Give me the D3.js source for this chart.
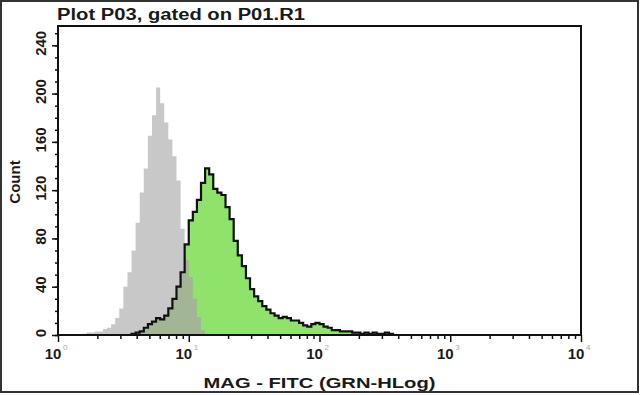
<!DOCTYPE html>
<html>
<head>
<meta charset="utf-8">
<script src="https://cdn.jsdelivr.net/npm/d3@7"></script>
<style>
  body { margin: 0; background: #fff; }
  svg { display: block; }
  text { font-family: "Liberation Sans", Arial, sans-serif; fill: #1a1a1a; }
</style>
</head>
<body>
<div id="chart"></div>
<script>
// histogram channels: 128 log channels across 4 decades
const channelCount = 128;
const decades = [1, 10, 100, 1000, 10000];
const yTicks = [0, 40, 80, 120, 160, 200, 240];

// unstained control (grey), counts from channel 6
const greyStart = 6;
const greyCounts = [1, 2, 2, 3, 3, 5, 6, 9, 14, 22, 40, 52, 70, 93, 118, 138, 165, 182, 205, 192,
  176, 162, 148, 128, 88, 62, 48, 30, 15, 4];

// stained sample (green), counts from channel 18
const greenStart = 18;
const greenCounts = [1, 2, 3, 6, 9, 11, 14, 13, 16, 22, 30, 40, 52, 75, 95, 102, 112, 126, 138, 133,
  121, 118, 116, 106, 96, 78, 66, 57, 47, 38, 32, 28, 24, 21, 18, 16, 14, 15, 14, 12,
  12, 10, 8, 7, 9, 10, 9, 7, 6, 4, 4, 3, 3, 3, 2, 2, 1, 2, 1, 2, 1, 1, 2, 1];

const width = 640;
const height = 395;
const margin = { left: 58, top: 26, right: 59, bottom: 60 };

const svg = d3.select("#chart")
  .append("svg")
  .attr("width", width)
  .attr("height", height);

const x = d3.scaleLog()
  .domain([1, 10000])
  .range([margin.left, width - margin.right]);

const y = d3.scaleLinear()
  .domain([0, 256])
  .range([height - margin.bottom, margin.top]);

const channelValue = c => Math.pow(10, c * 4 / channelCount);

function toBins(start, counts) {
  const bins = counts.map((v, i) => ({ c: start + i, v: v }));
  bins.push({ c: start + counts.length, v: 0 });
  return bins;
}

const greyBins = toBins(greyStart, greyCounts);
const greenBins = toBins(greenStart, greenCounts);

// overlap of the two histograms
const overlapBins = [];
for (let c = greenStart; c <= greyStart + greyCounts.length; c++) {
  const g = greyCounts[c - greyStart] || 0;
  const s = greenCounts[c - greenStart] || 0;
  overlapBins.push({ c: c, v: Math.min(g, s) });
}

const area = d3.area()
  .curve(d3.curveStepAfter)
  .x(d => x(channelValue(d.c)))
  .y0(y(0))
  .y1(d => y(d.v));

const line = d3.line()
  .curve(d3.curveStepAfter)
  .x(d => x(channelValue(d.c)))
  .y(d => y(d.v));

// outer border
svg.append("rect")
  .attr("x", 1)
  .attr("y", 1)
  .attr("width", width - 3)
  .attr("height", height - 4)
  .attr("fill", "none")
  .attr("stroke", "#333")
  .attr("stroke-width", 2);

svg.append("path")
  .datum(greyBins)
  .attr("d", area)
  .attr("fill", "#c8c8c8");

svg.append("path")
  .datum(greenBins)
  .attr("d", area)
  .attr("fill", "#8fe36b");

svg.append("path")
  .datum(overlapBins)
  .attr("d", area)
  .attr("fill", "#a2b594");

svg.append("path")
  .datum([{ c: greenStart, v: 0 }].concat(greenBins))
  .attr("d", line)
  .attr("fill", "none")
  .attr("stroke", "#111")
  .attr("stroke-width", 2.2);

// x axis ticks
const minorX = [];
for (let d = 0; d < 4; d++) {
  for (let k = 2; k <= 9; k++) minorX.push(k * Math.pow(10, d));
}
svg.append("g")
  .attr("transform", `translate(0,${y(0)})`)
  .call(d3.axisBottom(x).tickValues(minorX).tickSize(4).tickFormat(""))
  .call(g => g.select(".domain").remove())
  .selectAll("line").attr("stroke", "#111").attr("stroke-width", 1.5);

svg.append("g")
  .attr("transform", `translate(0,${y(0)})`)
  .call(d3.axisBottom(x).tickValues(decades).tickSize(7).tickFormat(""))
  .call(g => g.select(".domain").remove())
  .selectAll("line").attr("stroke", "#111").attr("stroke-width", 1.5);

const xLabels = svg.append("g");
decades.forEach((d, i) => {
  xLabels.append("text")
    .attr("x", x(d) - 5)
    .attr("y", y(0) + 24)
    .attr("text-anchor", "middle")
    .attr("font-size", 15)
    .attr("font-weight", "bold")
    .text("10");
  xLabels.append("text")
    .attr("x", x(d) + 5)
    .attr("y", y(0) + 15)
    .attr("font-size", 8)
    .style("fill", "#aaa")
    .text(i);
});

// y axis ticks
const minorY = d3.range(0, 257, 10);
svg.append("g")
  .attr("transform", `translate(${margin.left},0)`)
  .call(d3.axisLeft(y).tickValues(minorY).tickSize(3).tickFormat(""))
  .call(g => g.select(".domain").remove())
  .selectAll("line").attr("stroke", "#111").attr("stroke-width", 1.5);

svg.append("g")
  .attr("transform", `translate(${margin.left},0)`)
  .call(d3.axisLeft(y).tickValues(yTicks).tickSize(6).tickFormat(""))
  .call(g => g.select(".domain").remove())
  .selectAll("line").attr("stroke", "#111").attr("stroke-width", 1.5);

svg.append("g")
  .selectAll("text")
  .data(yTicks)
  .enter()
  .append("text")
  .attr("transform", d => `translate(46,${y(d) - 2}) rotate(-90)`)
  .attr("text-anchor", "middle")
  .attr("font-size", 15)
  .attr("font-weight", "bold")
  .text(d => d);

// plot frame
svg.append("rect")
  .attr("x", margin.left)
  .attr("y", margin.top)
  .attr("width", width - margin.left - margin.right)
  .attr("height", height - margin.top - margin.bottom)
  .attr("fill", "none")
  .attr("stroke", "#111")
  .attr("stroke-width", 2);

svg.append("text")
  .attr("x", 57)
  .attr("y", 20)
  .attr("font-size", 16)
  .attr("font-weight", "bold")
  .attr("textLength", 248)
  .attr("lengthAdjust", "spacingAndGlyphs")
  .text("Plot P03, gated on P01.R1");

svg.append("text")
  .attr("x", (margin.left + width - margin.right) / 2)
  .attr("y", 388)
  .attr("text-anchor", "middle")
  .attr("font-size", 15)
  .attr("font-weight", "bold")
  .attr("textLength", 232)
  .attr("lengthAdjust", "spacingAndGlyphs")
  .text("MAG - FITC (GRN-HLog)");

svg.append("text")
  .attr("transform", "translate(20,182) rotate(-90)")
  .attr("text-anchor", "middle")
  .attr("font-size", 15)
  .attr("font-weight", "bold")
  .text("Count");
</script>
</body>
</html>
